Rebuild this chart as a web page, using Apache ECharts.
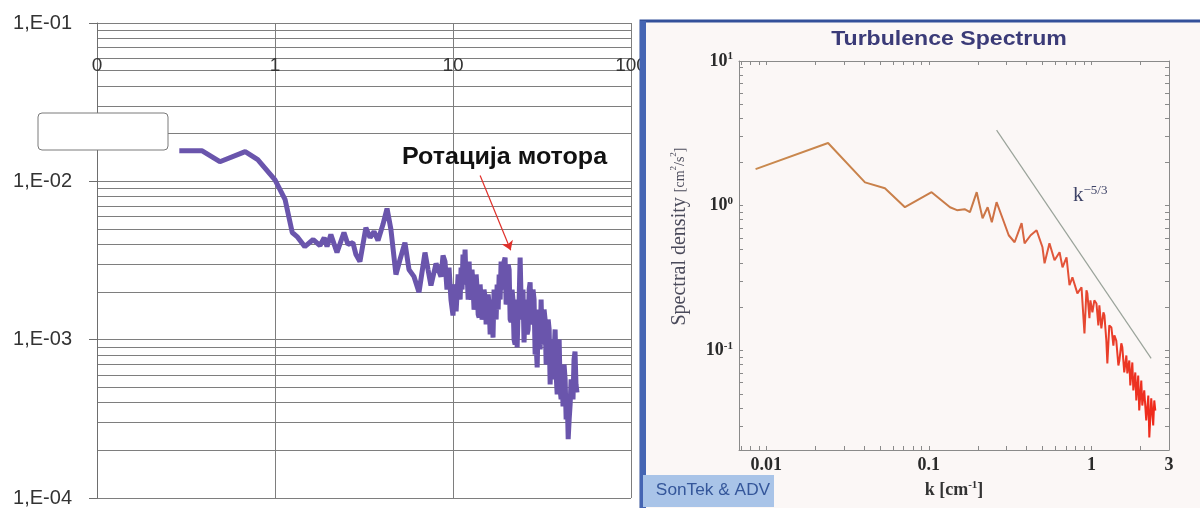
<!DOCTYPE html>
<html><head><meta charset="utf-8">
<script src="https://cdn.jsdelivr.net/npm/echarts@6/dist/echarts.min.js"></script>
<style>html,body{margin:0;padding:0;background:#fff}#c{width:1200px;height:508px}</style>
</head><body><div id="c"></div>
<script>
// ---------- LEFT CHART DATA (Excel log-log spectrum) ----------
const leftFreq = [0.29,0.39,0.49,0.68,0.80,1.0,1.14,1.25,1.33,1.47,1.64,1.79,1.89,1.96,2.06,2.23,2.44,2.57,2.74,2.85,
  3.00,3.24,3.42,3.60,3.79,4.04,4.26,4.48,4.78,5.04,5.37,5.66,6.04,6.44,6.96,7.24,7.52,8.03,8.56,8.79,
  9.02,9.25,9.50,9.74,
  10.0,10.14,10.28,10.41,10.55,10.69,10.83,10.97,11.10,11.24,
  11.38,11.54,11.69,11.85,12.01,12.17,12.32,12.48,12.64,12.79,
  12.95,13.13,13.31,13.49,13.67,13.85,14.02,14.20,14.38,14.56,
  14.74,14.94,15.15,15.35,15.56,15.76,15.96,16.17,16.37,16.58,
  16.78,17.01,17.24,17.47,17.70,17.94,18.17,18.40,18.63,18.86,
  19.09,19.35,19.62,19.88,20.15,20.41,20.67,20.94,21.20,21.47,
  21.73,22.03,22.33,22.63,22.93,23.23,23.53,23.83,24.13,24.43,
  24.73,25.07,25.41,25.76,26.10,26.44,26.78,27.12,27.47,27.81,
  28.15,28.54,28.93,29.32,29.71,30.10,30.48,30.87,31.26,31.65,
  32.04,32.48,32.92,33.37,33.81,34.25,34.69,35.13,35.58,36.02,
  36.46,36.96,37.47,37.97,38.48,38.98,39.48,39.99,40.49,41.00,
  41.50,42.07,42.65,43.22,43.79,44.37,44.94,45.51,46.08,46.66,
  47.23,47.85,48.47,49.09,49.73];
const leftPsd = [0.0156,0.0156,0.0133,0.0154,0.0137,0.0102,0.00766,0.00475,0.00448,0.00387,0.00429,0.00393,0.00441,0.00387,0.00461,0.00355,0.00475,0.00399,0.00410,0.00345,
  0.00311,0.00510,0.00441,0.00482,0.00423,0.00533,0.00673,0.00496,0.00258,0.00321,0.00410,0.00277,0.00250,0.00199,0.00355,0.00277,0.00220,0.00303,0.00250,0.00340,
  0.00311,0.00207,0.00285,0.00179,
  0.00142,0.00207,0.00223,0.00151,0.00155,0.00258,0.00240,0.00179,0.00285,0.00207,
  0.00345,0.00240,0.00371,0.00223,0.00258,0.00179,0.00311,0.00193,0.00179,0.00277,
  0.00223,0.00155,0.00167,0.00258,0.00207,0.00144,0.00138,0.00223,0.00179,0.00134,
  0.00144,0.00207,0.00185,0.00125,0.00125,0.00193,0.00167,0.00108,0.00108,0.00179,
  0.00103,0.00207,0.00179,0.00134,0.00223,0.00155,0.00258,0.00179,0.00311,0.00207,
  0.00207,0.00311,0.00330,0.00167,0.00179,0.00298,0.00277,0.00134,0.00130,0.00207,
  0.00179,0.00100,0.000933,0.00179,0.000893,0.00155,0.00179,0.00330,0.00179,0.00134,
  0.00207,0.00096,0.00155,0.00179,0.00108,0.00116,0.00207,0.00230,0.00125,0.00134,
  0.00207,0.00179,0.000807,0.000933,0.000668,0.00134,0.00155,0.000867,0.00179,0.00100,
  0.000933,0.00155,0.00134,0.000697,0.00075,0.00134,0.00116,0.000522,0.000933,0.00100,
  0.000561,0.000807,0.00116,0.000603,0.000451,0.000867,0.00100,0.000485,0.00042,0.000649,
  0.000379,0.000697,0.000561,0.000314,0.000451,0.000235,0.000314,0.00039,0.000561,0.000522,
  0.00042,0.00075,0.000842,0.000522,0.000464];
const leftXTicks = [0.1, 1, 10, 100];
const leftYTicks = [1e-4, 1e-3, 1e-2, 1e-1];
const arrowFrom = [14.2, 0.0109];
const arrowTo = [21.1, 0.00367];
const annotation = 'Ротација мотора';

// ---------- RIGHT CHART DATA (Turbulence Spectrum) ----------
const rightK = [0.0086,0.024,0.0405,0.0537,0.0713,0.104,0.135,0.149,0.166,0.179,0.197,0.214,0.230,0.244,0.261,0.284,0.310,0.337,0.372,0.388,
  0.423,0.460,0.500,0.515,0.552,0.593,0.637,0.664,0.703,0.733,0.764,0.820,0.869,
  0.906,0.932,0.944,0.972,0.986,1.014,1.042,1.074,1.103,1.119,1.151,1.185,1.202,1.235,1.253,1.288,1.327,1.365,1.384,1.422,
  1.465,1.486,1.527,1.549,1.592,1.640,1.663,1.710,1.734,1.785,1.810,1.862,1.888,1.940,1.968,2.026,2.055,2.113,2.173,2.238,
  2.270,2.333,2.399,2.435,2.472];
const rightS = [1.79,2.71,1.45,1.32,0.976,1.24,0.976,0.931,0.946,0.902,1.24,0.819,0.976,0.769,1.057,0.819,0.625,0.559,0.757,0.550,
  0.625,0.677,0.516,0.400,0.550,0.420,0.477,0.375,0.440,0.282,0.320,0.248,0.273,
  0.131,0.260,0.248,0.167,0.222,0.183,0.222,0.211,0.149,0.205,0.142,0.183,0.175,0.117,0.0813,0.149,0.144,0.108,0.127,0.117,
  0.0787,0.0852,0.112,0.105,0.0704,0.0923,0.0693,0.0852,0.0573,0.0826,0.0529,0.0704,0.0451,0.0671,0.0384,0.0620,0.0416,0.0529,0.0328,0.0488,
  0.0250,0.0466,0.0303,0.0451,0.0384];
const slopeK = [0.261, 2.33];
const slopeS = [3.33, 0.0881];
const rightXLabels = [0.01, 0.1, 1, 3];
const rightYLabels = [0.1, 1, 10];
const rightTitle = 'Turbulence Spectrum';
const badge = 'SonTek & ADV';

function logTicks(lo, hi) {
  const out = [];
  for (let e = -5; e <= 2; e++) for (let m = 1; m <= 9; m++) {
    const v = +(m * Math.pow(10, e)).toPrecision(3);
    if (v >= lo * 0.9999 && v <= hi * 1.0001) out.push(v);
  }
  return out;
}
const zip = (a, b) => a.map((v, i) => [v, b[i]]);

const chart = echarts.init(document.getElementById('c'), null, {renderer: 'canvas'});
const serif = '"Liberation Serif", "DejaVu Serif", serif';
const sans = '"Liberation Sans", Arial, sans-serif';
const supRich = {
  b: {fontFamily: serif, fontSize: 18, fontWeight: 'bold', color: '#2a2a2a', lineHeight: 20},
  s: {fontFamily: serif, fontSize: 11, fontWeight: 'bold', color: '#2a2a2a', lineHeight: 11, verticalAlign: 'top'}
};
const rXMin = 0.0068, rXMax = 3, rYMin = 0.0205, rYMax = 10;
const gridGrey = '#7e7e7e';

const option = {
  animation: false,
  backgroundColor: '#ffffff',
  grid: [
    {left: 97, top: 23, width: 534, height: 475},
    {left: 739, top: 61, width: 430, height: 389}
  ],
  xAxis: [
    {gridIndex: 0, type: 'log', min: 0.1, max: 100, position: 'top',
      axisLine: {show: false}, axisTick: {show: false, customValues: leftXTicks},
      axisLabel: {inside: true, margin: 33, customValues: leftXTicks, fontFamily: sans, fontSize: 19, color: '#333',
        formatter: v => v < 1 ? '0' : String(Math.round(v))},
      splitLine: {show: true, lineStyle: {color: gridGrey, width: 1}}},
    {gridIndex: 1, type: 'log', min: rXMin, max: rXMax, position: 'bottom', z: 5,
      axisLine: {lineStyle: {color: '#8a8a8a', width: 1}},
      axisTick: {inside: true, length: 4, customValues: logTicks(rXMin, rXMax), lineStyle: {color: '#8a8a8a'}},
      axisLabel: {customValues: rightXLabels, margin: 6, fontFamily: serif, fontSize: 18, fontWeight: 'bold', color: '#2a2a2a',
        formatter: v => String(v)},
      splitLine: {show: false},
      name: '{n|k [cm}{s|-1}{n|]}', nameLocation: 'middle', nameGap: 30,
      nameTextStyle: {rich: {
        n: {fontFamily: serif, fontSize: 18, fontWeight: 'bold', color: '#333', lineHeight: 20},
        s: {fontFamily: serif, fontSize: 11, fontWeight: 'bold', color: '#333', lineHeight: 11, verticalAlign: 'top'}}}},
    {gridIndex: 1, type: 'log', min: rXMin, max: rXMax, position: 'top', z: 5,
      axisLine: {lineStyle: {color: '#8a8a8a', width: 1}},
      axisTick: {inside: true, length: 4, customValues: logTicks(rXMin, rXMax), lineStyle: {color: '#8a8a8a'}},
      axisLabel: {show: false}, splitLine: {show: false}}
  ],
  yAxis: [
    {gridIndex: 0, type: 'log', min: 1e-4, max: 1e-1,
      axisLine: {show: true, lineStyle: {color: '#6e6e6e'}},
      axisTick: {show: true, length: 8, customValues: leftYTicks, lineStyle: {color: '#6e6e6e'}},
      axisLabel: {customValues: leftYTicks, margin: 25, fontFamily: sans, fontSize: 20, color: '#333',
        formatter: v => { const e = Math.round(Math.log10(v)); return '1,E' + (e < 0 ? '-' : '+') + String(Math.abs(e)).padStart(2, '0'); }},
      splitLine: {show: false}},
    {gridIndex: 0, type: 'log', min: 1e-4, max: 1e-1, position: 'left',
      axisLine: {show: false}, axisTick: {show: false, customValues: logTicks(1e-4, 1e-1)},
      axisLabel: {show: false},
      splitLine: {show: true, lineStyle: {color: gridGrey, width: 1}}},
    {gridIndex: 1, type: 'log', min: rYMin, max: rYMax, position: 'left', z: 5,
      axisLine: {show: true, lineStyle: {color: '#8a8a8a'}},
      axisTick: {inside: true, length: 4, customValues: logTicks(rYMin, rYMax), lineStyle: {color: '#8a8a8a'}},
      axisLabel: {customValues: rightYLabels, margin: 6, rich: supRich,
        formatter: v => '{b|10}{s|' + Math.round(Math.log10(v)) + '}'},
      splitLine: {show: false},
      name: '{n|Spectral density }{m|[cm}{s|2}{m|/s}{s|2}{m|]}', nameLocation: 'middle', nameGap: 48,
      nameTextStyle: {padding: [0, 0, 0, 38], rich: {
        n: {fontFamily: serif, fontSize: 20, color: '#4a4a5a', lineHeight: 22},
        m: {fontFamily: serif, fontSize: 14, color: '#4a4a5a', lineHeight: 22},
        s: {fontFamily: serif, fontSize: 9, color: '#4a4a5a', lineHeight: 9, verticalAlign: 'top'}}}},
    {gridIndex: 1, type: 'log', min: rYMin, max: rYMax, position: 'right', z: 5,
      axisLine: {show: true, lineStyle: {color: '#8a8a8a'}},
      axisTick: {inside: true, length: 4, customValues: logTicks(rYMin, rYMax), lineStyle: {color: '#8a8a8a'}},
      axisLabel: {show: false}, splitLine: {show: false}}
  ],
  series: [
    {type: 'line', xAxisIndex: 0, yAxisIndex: 0, data: zip(leftFreq, leftPsd), showSymbol: false, symbol: 'none',
      lineStyle: {color: '#6a55ac', width: 5}, z: 2,
      markLine: {silent: true, symbol: ['none', 'arrow'], symbolSize: 9, label: {show: false},
        lineStyle: {color: '#e0302a', width: 1.2, type: 'solid'},
        data: [[{coord: arrowFrom}, {coord: arrowTo}]]}},
    {type: 'line', xAxisIndex: 1, yAxisIndex: 2, data: zip(slopeK, slopeS), showSymbol: false, symbol: 'none', z: 6,
      lineStyle: {color: '#9aa39a', width: 1.2}},
    {type: 'line', xAxisIndex: 1, yAxisIndex: 2, data: zip(rightK, rightS), showSymbol: false, symbol: 'none', z: 7,
      lineStyle: {width: 2, color: new echarts.graphic.LinearGradient(0, 0, 1, 0, [
        {offset: 0, color: '#c98a4e'}, {offset: 0.55, color: '#c97a48'}, {offset: 0.75, color: '#e2553a'}, {offset: 1, color: '#f0281a'}])}}
  ],
  graphic: [
    {type: 'rect', z: 3, shape: {x: 641, y: 21, width: 580, height: 500}, style: {fill: '#fbf7f6', stroke: '#33509a', lineWidth: 3}},
    {type: 'rect', z: 3, shape: {x: 640, y: 21, width: 6, height: 490}, style: {fill: '#4565b3'}},
    {type: 'rect', z: 1, shape: {x: 38, y: 113, width: 130, height: 37, r: 4}, style: {fill: '#fff', stroke: '#7a7a7a', lineWidth: 1}},
    {type: 'text', z: 4, x: 402, y: 158, scaleX: 1.09, style: {text: annotation, font: 'bold 23px "Liberation Sans", Arial, sans-serif', fill: '#111', verticalAlign: 'middle'}},
    {type: 'text', z: 8, x: 949, y: 39, scaleX: 1.1, style: {text: rightTitle, font: 'bold 21px "Liberation Sans", Arial, sans-serif', fill: '#3b3b78', align: 'center', verticalAlign: 'middle'}},
    {type: 'rect', z: 8, shape: {x: 643, y: 475, width: 131, height: 32}, style: {fill: '#a9c4e8'}},
    {type: 'text', z: 9, x: 713, y: 491, scaleX: 1.08, style: {text: badge, font: '16px "Liberation Sans Narrow", "Liberation Sans", sans-serif', fill: '#34569a', align: 'center', verticalAlign: 'middle'}},
    {type: 'text', z: 9, x: 1073, y: 195, style: {text: '{k|k}{s|−5/3}', verticalAlign: 'middle', rich: {
      k: {fontFamily: serif, fontSize: 21, fill: '#3d4266', lineHeight: 22},
      s: {fontFamily: serif, fontSize: 13, fill: '#3d4266', lineHeight: 13, verticalAlign: 'top'}}}}
  ]
};
chart.setOption(option);
</script></body></html>
